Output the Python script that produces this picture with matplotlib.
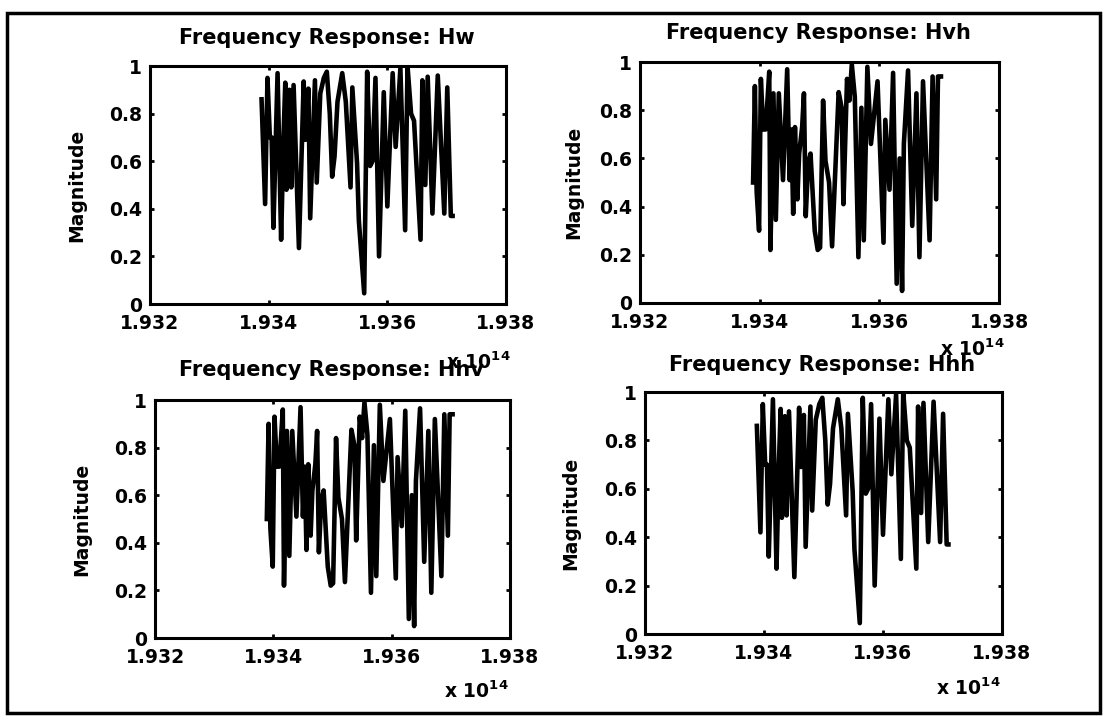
import numpy as np
import matplotlib
matplotlib.use("Agg")
import matplotlib.pyplot as plt
from matplotlib.patches import Rectangle

# ---------------- data (frequency in units of 1e14 Hz) ----------------
freq_hw = [1.93388, 1.93394, 1.93398, 1.93402, 1.93405, 1.93408, 1.93415, 1.93421,
           1.93425, 1.93428, 1.93430, 1.93435, 1.93438, 1.93442, 1.93451, 1.93459,
           1.93462, 1.93467, 1.93470, 1.93478, 1.93481, 1.93487, 1.93493, 1.93498,
           1.93503, 1.93507, 1.93511, 1.93516, 1.93524, 1.93530, 1.93538, 1.93541,
           1.93549, 1.93552, 1.93561, 1.93566, 1.93571, 1.93575, 1.93580, 1.93586,
           1.93594, 1.93600, 1.93609, 1.93614, 1.93622, 1.93630, 1.93634, 1.93640,
           1.93645, 1.93656, 1.93659, 1.93664, 1.93668, 1.93676, 1.93685, 1.93696,
           1.93701, 1.93707, 1.93710]
mag_hw = [0.86, 0.42, 0.95, 0.70, 0.70, 0.32, 0.97, 0.27,
          0.70, 0.93, 0.48, 0.90, 0.49, 0.92, 0.235, 0.935,
          0.69, 0.905, 0.36, 0.94, 0.51, 0.885, 0.95, 0.976,
          0.80, 0.535, 0.62, 0.85, 0.97, 0.85, 0.49, 0.91,
          0.59, 0.35, 0.045, 0.976, 0.58, 0.60, 0.95, 0.20,
          0.89, 0.41, 0.97, 0.66, 0.99, 0.31, 1.00, 0.80,
          0.77, 0.27, 0.94, 0.50, 0.955, 0.38, 0.96, 0.38,
          0.91, 0.37, 0.37]

freq_hvh = [1.93389, 1.93392, 1.93395, 1.93399, 1.93402, 1.93406, 1.93410, 1.93416,
            1.93418, 1.93423, 1.93427, 1.93432, 1.93439, 1.93446, 1.93450, 1.93453,
            1.93456, 1.93459, 1.93463, 1.93466, 1.93471, 1.93474, 1.93477, 1.93481,
            1.93485, 1.93492, 1.93497, 1.93501, 1.93506, 1.93510, 1.93516, 1.93521,
            1.93532, 1.93537, 1.93540, 1.93546, 1.93550, 1.93554, 1.93559, 1.93565,
            1.93570, 1.93574, 1.93580, 1.93586, 1.93597, 1.93607, 1.93610, 1.93617,
            1.93623, 1.93629, 1.93634, 1.93638, 1.93641, 1.93648, 1.93655, 1.93662,
            1.93667, 1.93673, 1.93684, 1.93689, 1.93695, 1.93698, 1.93703]
mag_hvh = [0.50, 0.90, 0.46, 0.30, 0.93, 0.72, 0.72, 0.96,
           0.22, 0.87, 0.345, 0.87, 0.51, 0.97, 0.51, 0.72,
           0.37, 0.73, 0.43, 0.62, 0.73, 0.87, 0.36, 0.58,
           0.62, 0.30, 0.22, 0.23, 0.84, 0.59, 0.50, 0.235,
           0.875, 0.81, 0.41, 0.93, 0.84, 0.99, 0.855, 0.19,
           0.81, 0.26, 0.98, 0.66, 0.92, 0.25, 0.76, 0.47,
           0.955, 0.08, 0.60, 0.05, 0.66, 0.965, 0.32, 0.87,
           0.19, 0.92, 0.26, 0.94, 0.43, 0.94, 0.94]

freq_hhv = list(freq_hvh)
mag_hhv = list(mag_hvh)
freq_hhh = list(freq_hw)
mag_hhh = list(mag_hw)

titles = ["Frequency Response: Hw", "Frequency Response: Hvh",
          "Frequency Response: Hhv", "Frequency Response: Hhh"]
xticks = [1.932, 1.934, 1.936, 1.938]
yticks = [0, 0.2, 0.4, 0.6, 0.8, 1]
ytick_labels = ["0", "0.2", "0.4", "0.6", "0.8", "1"]

# ---------------- layout ----------------
W, H = 1107, 721
fig = plt.figure(figsize=(W / 100, H / 100), dpi=100)
fig.patch.set_facecolor("white")

def fx(px):
    return px / W

def fy(py):
    return 1 - py / H

# (left, right, top, bottom) in pixels
boxes = [(150, 506, 66, 304), (640, 999, 62, 303),
         (155, 510, 400, 638), (645, 1002, 392, 634)]
title_pos = [(327, 38), (818, 33), (331, 370), (822, 365)]
ylabel_px = [86, 583, 91, 580]
offset_pos = [(478, 362), (972, 349), (476, 691), (968, 688)]

series = [(freq_hw, mag_hw), (freq_hvh, mag_hvh), (freq_hhv, mag_hhv), (freq_hhh, mag_hhh)]

FS = 13.5
for i, (l, r, t, b) in enumerate(boxes):
    ax = fig.add_axes([fx(l), fy(b), fx(r - l), (b - t) / H])
    f, m = series[i]
    ax.plot(f, m, color="black", lw=3.3, solid_joinstyle="round")
    ax.set_xlim(1.932, 1.938)
    ax.set_ylim(0, 1)
    ax.set_xticks(xticks)
    ax.set_xticklabels([f"{v:.3f}" for v in xticks])
    ax.set_yticks(yticks)
    ax.set_yticklabels(ytick_labels)
    for s in ax.spines.values():
        s.set_linewidth(2.2)
    ax.tick_params(direction="in", length=3, width=2, top=True, right=True,
                   labelsize=FS, pad=6)
    ax.tick_params(axis="x", pad=7)
    for lab in ax.get_xticklabels() + ax.get_yticklabels():
        lab.set_fontweight("bold")
    ax.set_ylabel("Magnitude", fontsize=FS, fontweight="bold")
    ax.yaxis.set_label_coords((ylabel_px[i] - l) / (r - l), 0.5)
    tx, ty = title_pos[i]
    fig.text(fx(tx), fy(ty), titles[i], ha="center", va="center",
             fontsize=15, fontweight="bold")
    ox, oy = offset_pos[i]
    fig.text(fx(ox), fy(oy), r"x 10$^{\mathbf{14}}$", ha="center", va="center",
             fontsize=FS, fontweight="bold")

fig.patches.append(Rectangle((fx(7), fy(713)), fx(1100 - 7), (713 - 13) / H,
                             transform=fig.transFigure, fill=False,
                             edgecolor="black", linewidth=2.5))

fig.savefig("out.png", dpi=100)
